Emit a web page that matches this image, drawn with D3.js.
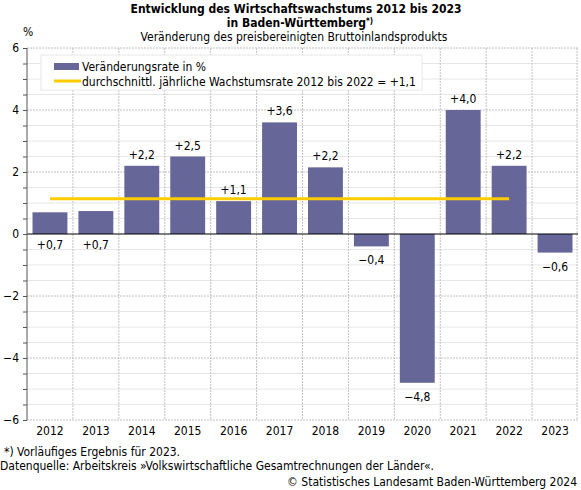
<!DOCTYPE html>
<html>
<head>
<meta charset="utf-8">
<script src="https://cdn.jsdelivr.net/npm/d3@7"></script>
<style>
  body { margin: 0; background: #fff; }
  svg { font-family: "DejaVu Sans Condensed", "DejaVu Sans", sans-serif; }
</style>
</head>
<body>
<svg id="chart"></svg>
<script>
const WIDTH = 581;
const HEIGHT = 490;

const years = ["2012", "2013", "2014", "2015", "2016", "2017", "2018", "2019", "2020", "2021", "2022", "2023"];
const rates = [0.7, 0.74, 2.2, 2.5, 1.06, 3.6, 2.15, -0.4, -4.8, 4.0, 2.2, -0.6];
const rateLabels = ["+0,7", "+0,7", "+2,2", "+2,5", "+1,1", "+3,6", "+2,2", "\u22120,4", "\u22124,8", "+4,0", "+2,2", "\u22120,6"];
// years whose label sits under the zero line
const labelBelow = ["2012", "2013"];
const avgRate = 1.14;
const avgFrom = "2012";
const avgTo = "2022";
const yTicks = [-6, -4, -2, 0, 2, 4, 6];
const yTickLabels = ["\u22126", "\u22124", "\u22122", "0", "2", "4", "6"];

const MARGIN = { left: 27, right: 3, top: 48, bottom: 70 };

const svg = d3.select("#chart").attr("width", WIDTH).attr("height", HEIGHT);

const scaleX = d3.scaleBand()
  .domain(years)
  .range([MARGIN.left, WIDTH - MARGIN.right])
  .paddingInner(0.24)
  .paddingOuter(0.12);

const scaleY = d3.scaleLinear()
  .domain([-6, 6])
  .range([HEIGHT - MARGIN.bottom, MARGIN.top]);

const step = scaleX.step();
const x0 = MARGIN.left;
const x1 = WIDTH - MARGIN.right;

// minor gridlines every 0.5
const minor = d3.range(-6, 6.01, 0.5).filter((v) => v % 2 !== 0);
svg.append("g")
  .selectAll("line")
  .data(minor)
  .join("line")
  .attr("x1", x0).attr("x2", x1)
  .attr("y1", (d) => scaleY(d)).attr("y2", (d) => scaleY(d))
  .attr("stroke", "#e6e6e6");

// major gridlines
svg.append("g")
  .selectAll("line")
  .data(yTicks.filter((d) => d !== 0))
  .join("line")
  .attr("x1", x0).attr("x2", x1)
  .attr("y1", (d) => scaleY(d)).attr("y2", (d) => scaleY(d))
  .attr("stroke", "#c0c0c0")
  .attr("stroke-dasharray", "2,1");

// vertical gridlines at category boundaries
svg.append("g")
  .selectAll("line")
  .data(years)
  .join("line")
  .attr("x1", (d, i) => x0 + step * (i + 1) - (i === years.length - 1 ? 1 : 0))
  .attr("x2", (d, i) => x0 + step * (i + 1) - (i === years.length - 1 ? 1 : 0))
  .attr("y1", scaleY(6)).attr("y2", scaleY(-6))
  .attr("stroke", "#c0c0c0")
  .attr("stroke-dasharray", "2,1");

// bars
svg.append("g")
  .selectAll("rect")
  .data(years)
  .join("rect")
  .attr("x", (d) => scaleX(d))
  .attr("width", scaleX.bandwidth())
  .attr("y", (d, i) => scaleY(Math.max(0, rates[i])))
  .attr("height", (d, i) => Math.abs(scaleY(rates[i]) - scaleY(0)))
  .attr("fill", "#666699");

// zero line
svg.append("line")
  .attr("x1", x0).attr("x2", x1)
  .attr("y1", scaleY(0)).attr("y2", scaleY(0))
  .attr("stroke", "#000");

// average line
svg.append("line")
  .attr("x1", scaleX(avgFrom) + scaleX.bandwidth() / 2)
  .attr("x2", scaleX(avgTo) + scaleX.bandwidth() / 2)
  .attr("y1", scaleY(avgRate)).attr("y2", scaleY(avgRate))
  .attr("stroke", "#ffcc00")
  .attr("stroke-width", 3);

// value labels
svg.append("g")
  .selectAll("text")
  .data(years)
  .join("text")
  .attr("x", (d) => scaleX(d) + scaleX.bandwidth() / 2)
  .attr("y", (d, i) => {
    if (labelBelow.includes(d)) return scaleY(0) + 15;
    return rates[i] >= 0 ? scaleY(rates[i]) - 7 : scaleY(rates[i]) + 18;
  })
  .attr("text-anchor", "middle")
  .attr("font-size", 12)
  .attr("fill", "#000")
  .text((d, i) => rateLabels[i]);

// y axis
const axisY = d3.axisLeft(scaleY)
  .tickValues(d3.range(-6, 6.01, 0.5))
  .tickSize(4)
  .tickFormat((d) => {
    const i = yTicks.indexOf(d);
    return i >= 0 ? yTickLabels[i] : "";
  });

svg.append("g")
  .attr("transform", `translate(${x0},0)`)
  .call(axisY)
  .call((g) => g.select(".domain").attr("stroke", "#555").attr("d", `M0,${scaleY(6)}V${scaleY(-6)}`))
  .call((g) => g.selectAll(".tick line").attr("stroke", "#555"))
  .call((g) => g.selectAll(".tick text").attr("font-size", 12).attr("fill", "#000").attr("x", -8)
    .attr("font-family", "DejaVu Sans Condensed, DejaVu Sans, sans-serif"));

// x axis labels
const axisX = d3.axisBottom(scaleX).tickSize(0).tickPadding(6);
svg.append("g")
  .attr("transform", `translate(0,${scaleY(-6)})`)
  .call(axisX)
  .call((g) => g.select(".domain").remove())
  .call((g) => g.selectAll(".tick text").attr("font-size", 12).attr("fill", "#000")
    .attr("font-family", "DejaVu Sans Condensed, DejaVu Sans, sans-serif"));

// titles
svg.append("text")
  .attr("x", 296).attr("y", 13)
  .attr("text-anchor", "middle")
  .attr("font-size", 12).attr("font-weight", "bold")
  .text("Entwicklung des Wirtschaftswachstums 2012 bis 2023");

const t2 = svg.append("text")
  .attr("x", 300).attr("y", 27)
  .attr("text-anchor", "middle")
  .attr("font-size", 12).attr("font-weight", "bold");
t2.append("tspan").text("in Baden-Württemberg");
t2.append("tspan").attr("font-size", 8).attr("dy", -3).text("*)");

svg.append("text")
  .attr("x", 294).attr("y", 41)
  .attr("text-anchor", "middle")
  .attr("font-size", 12)
  .text("Veränderung des preisbereinigten Bruttoinlandsprodukts");

svg.append("text")
  .attr("x", 23).attr("y", 36)
  .attr("font-size", 12)
  .text("%");

// legend
const legend = svg.append("g").attr("transform", "translate(41,55)");
legend.append("rect")
  .attr("width", 381).attr("height", 35)
  .attr("fill", "#fff").attr("stroke", "#e8e8e8");
legend.append("rect")
  .attr("x", 13).attr("y", 8).attr("width", 25).attr("height", 7)
  .attr("fill", "#666699");
legend.append("line")
  .attr("x1", 13).attr("x2", 40).attr("y1", 26).attr("y2", 26)
  .attr("stroke", "#ffcc00").attr("stroke-width", 3);
legend.append("text")
  .attr("x", 41).attr("y", 16).attr("font-size", 12)
  .text("Veränderungsrate in %");
legend.append("text")
  .attr("x", 41).attr("y", 31).attr("font-size", 12)
  .text("durchschnittl. jährliche Wachstumsrate 2012 bis 2022 = +1,1");

// footnotes
svg.append("text")
  .attr("x", 4).attr("y", 456).attr("font-size", 12)
  .text("*) Vorläufiges Ergebnis für 2023.");
svg.append("text")
  .attr("x", 0).attr("y", 470).attr("font-size", 12)
  .text("Datenquelle: Arbeitskreis »Volkswirtschaftliche Gesamtrechnungen der Länder«.");
svg.append("text")
  .attr("x", 577).attr("y", 486).attr("font-size", 12)
  .attr("text-anchor", "end")
  .text("© Statistisches Landesamt Baden-Württemberg 2024");
</script>
</body>
</html>
